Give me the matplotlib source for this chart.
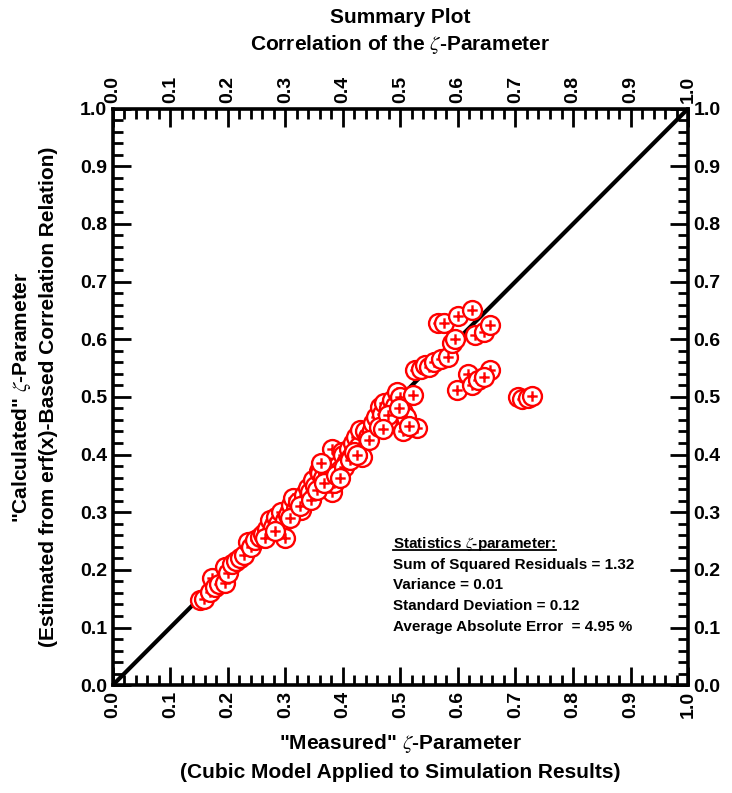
import numpy as np
import matplotlib
matplotlib.use("Agg")
import matplotlib.pyplot as plt
from matplotlib.path import Path
from matplotlib.lines import Line2D
from matplotlib.ticker import MultipleLocator

plt.rcParams["font.family"] = ["Liberation Sans", "DejaVu Sans"]
plt.rcParams["mathtext.fontset"] = "stix"

# measured vs calculated zeta values
measured = [0.151, 0.158, 0.169, 0.172, 0.178, 0.185, 0.195, 0.195, 0.200, 0.208,
            0.215, 0.221, 0.228, 0.235, 0.240, 0.248, 0.256, 0.262, 0.268, 0.273,
            0.278, 0.283, 0.288, 0.292, 0.299, 0.299, 0.305, 0.310, 0.313, 0.318,
            0.322, 0.328, 0.333, 0.339, 0.343, 0.348, 0.352, 0.358, 0.360, 0.365,
            0.370, 0.374, 0.378, 0.381, 0.385, 0.388, 0.381, 0.392, 0.395, 0.398,
            0.400, 0.405, 0.410, 0.415, 0.418, 0.423, 0.428, 0.430, 0.433, 0.438,
            0.443, 0.450, 0.452, 0.458, 0.464, 0.468, 0.472, 0.476, 0.480, 0.485,
            0.490, 0.494, 0.500, 0.505, 0.504, 0.510, 0.522, 0.528, 0.525, 0.535,
            0.543, 0.550, 0.558, 0.565, 0.575, 0.570, 0.583, 0.590, 0.595, 0.600,
            0.598, 0.617, 0.625, 0.625, 0.630, 0.635, 0.645, 0.656, 0.656, 0.645,
            0.704, 0.712, 0.722, 0.728,
            0.265, 0.282, 0.308, 0.326, 0.345, 0.355, 0.368, 0.388, 0.402, 0.412,
            0.420, 0.446, 0.462, 0.478, 0.498, 0.515, 0.362, 0.395, 0.425, 0.470]
calculated = [0.148, 0.150, 0.162, 0.186, 0.170, 0.175, 0.177, 0.205, 0.195, 0.210,
              0.215, 0.220, 0.225, 0.248, 0.240, 0.252, 0.257, 0.262, 0.270, 0.286,
              0.275, 0.292, 0.280, 0.300, 0.286, 0.255, 0.295, 0.312, 0.325, 0.305,
              0.318, 0.304, 0.330, 0.342, 0.335, 0.355, 0.345, 0.372, 0.368, 0.360,
              0.380, 0.370, 0.385, 0.335, 0.350, 0.395, 0.410, 0.380, 0.373, 0.405,
              0.400, 0.385, 0.410, 0.395, 0.420, 0.430, 0.415, 0.443, 0.396, 0.440,
              0.430, 0.443, 0.455, 0.465, 0.483, 0.470, 0.490, 0.455, 0.480, 0.495,
              0.485, 0.509, 0.500, 0.474, 0.440, 0.465, 0.503, 0.446, 0.547, 0.548,
              0.556, 0.552, 0.560, 0.628, 0.628, 0.565, 0.570, 0.594, 0.600, 0.640,
              0.512, 0.540, 0.520, 0.650, 0.608, 0.530, 0.612, 0.625, 0.547, 0.535,
              0.500, 0.497, 0.498, 0.502,
              0.255, 0.268, 0.290, 0.310, 0.322, 0.338, 0.350, 0.365, 0.378, 0.390,
              0.405, 0.425, 0.448, 0.468, 0.480, 0.450, 0.385, 0.360, 0.400, 0.445]

tick_vals = np.round(np.arange(0, 1.01, 0.1), 1)
tick_labels = [f"{v:.1f}" for v in tick_vals]

stats_lines = ["Sum of Squared Residuals = 1.32",
               "Variance = 0.01",
               "Standard Deviation = 0.12",
               "Average Absolute Error  = 4.95 %"]

# circle with a plus inside, as one marker
circ = Path.unit_circle()
plus = Path([(-0.55, 0), (0.55, 0), (0, -0.55), (0, 0.55)],
            [Path.MOVETO, Path.LINETO, Path.MOVETO, Path.LINETO])
circ_plus = Path.make_compound_path(circ, plus)

fig = plt.figure(figsize=(7.32, 7.93), dpi=100)
ax = fig.add_axes([0.154, 0.136, 0.786, 0.727])

ax.plot([0, 1], [0, 1], color="black", lw=3, zorder=2)
ax.scatter(measured, calculated, marker=circ_plus, s=185, facecolor="white",
           edgecolor="#ff0000", linewidths=1.7, zorder=3)

ax.set_xlim(0, 1)
ax.set_ylim(0, 1)
ax.set_xticks(tick_vals)
ax.set_yticks(tick_vals)
ax.set_xticklabels(tick_labels)
ax.set_yticklabels(tick_labels)
ax.xaxis.set_minor_locator(MultipleLocator(0.02))
ax.yaxis.set_minor_locator(MultipleLocator(0.02))
ax.tick_params(which="both", direction="in", top=True, right=True,
               labeltop=True, labelright=True, width=2)
ax.tick_params(which="major", length=13, pad=4, labelsize=14)
ax.tick_params(which="minor", length=7)
for t in ax.xaxis.get_major_ticks():
    for lab in (t.label1, t.label2):
        lab.set_rotation(90)
        lab.set_fontweight("bold")
for t in ax.yaxis.get_major_ticks():
    for lab in (t.label1, t.label2):
        lab.set_fontweight("bold")
for sp in ax.spines.values():
    sp.set_linewidth(2.6)

narrow = ["Liberation Sans Narrow", "Liberation Sans", "DejaVu Sans"]
fig.text(0.547, 0.978, "Summary Plot", ha="center", va="center",
         fontsize=15, fontweight="bold", family=narrow)
fig.text(0.547, 0.944, r"Correlation of the $\zeta$-Parameter", ha="center",
         va="center", fontsize=15, fontweight="bold", family=narrow)
fig.text(0.547, 0.063, r'"Measured" $\zeta$-Parameter', ha="center",
         va="center", fontsize=15, fontweight="bold", family=narrow)
fig.text(0.547, 0.026, "(Cubic Model Applied to Simulation Results)",
         ha="center", va="center", fontsize=15, fontweight="bold", family=narrow)
fig.text(0.030, 0.499, r'"Calculated" $\zeta$-Parameter', ha="center",
         va="center", rotation=90, fontsize=15, fontweight="bold", family=narrow)
fig.text(0.066, 0.499, "(Estimated from erf(x)-Based Correlation Relation)",
         ha="center", va="center", rotation=90, fontsize=15, fontweight="bold",
         family=narrow)

# statistics block
sx, sy = 0.487, 0.238
head = ax.text(sx, sy, r"Statistics $\zeta$-parameter:", fontsize=11,
               fontweight="bold", va="baseline")
for i, line in enumerate(stats_lines):
    ax.text(sx, sy - 0.036 * (i + 1), line, fontsize=11,
            fontweight="bold", va="baseline")

# underline the heading just below its baseline
fig.canvas.draw()
bb = head.get_window_extent()
base = ax.transData.transform((sx, sy))[1] - 2
inv = fig.transFigure.inverted()
x0, y_ul = inv.transform((bb.x0, base))
x1, _ = inv.transform((bb.x1, base))
fig.add_artist(Line2D([x0, x1], [y_ul, y_ul], color="black", lw=1.3,
                      transform=fig.transFigure))

fig.savefig("out.png", dpi=100)
